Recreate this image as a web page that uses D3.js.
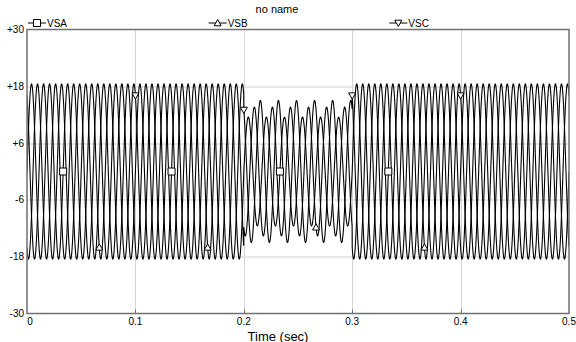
<!DOCTYPE html>
<html>
<head>
<meta charset="utf-8">
<script src="https://cdn.jsdelivr.net/npm/d3@7"></script>
<style>
    body { margin: 0; background: #fff; }
    text { font-family: "Liberation Sans", Arial, sans-serif; fill: #000; }
</style>
</head>
<body>
<script>
// waveform parameters (kV peak, 60 Hz, sag 0.2 - 0.3 s)
const freqHz = 60;
const segStart = [0, 0.2, 0.3];
const segEnd = [0.2, 0.3, 0.5];
const ampVSA = [18.5, 11.5, 18.5];
const ampVSB = [18.5, 13.6, 18.5];
const ampVSC = [18.5, 15.0, 18.5];
const phaseDeg = { VSA: 0, VSB: -120, VSC: 120 };

const seriesNames = ["VSA", "VSB", "VSC"];
const markerStart = { VSA: 1 / 30, VSB: 2 / 30, VSC: 3 / 30 };
const markerTimes = [0, 0.1, 0.2, 0.3];
const markerShape = { VSA: "square", VSB: "up", VSC: "down" };

const yTicks = [30, 18, 6, -6, -18, -30];
const yTickLabels = ["+30", "+18", "+6", "-6", "-18", "-30"];
const xTicks = [0, 0.1, 0.2, 0.3, 0.4, 0.5];
const xTickLabels = ["0", "0.1", "0.2", "0.3", "0.4", "0.5"];

const width = 576;
const height = 342;
const margin = { left: 27, right: 7, top: 29.5, bottom: 28.5 };
const chartwidth = width - margin.left - margin.right;
const chartheight = height - margin.top - margin.bottom;

const amps = { VSA: ampVSA, VSB: ampVSB, VSC: ampVSC };

const valueAt = (name, t) => {
    let i = segStart.findIndex((s, k) => t >= s && t < segEnd[k]);
    if (i < 0) i = segStart.length - 1;
    return amps[name][i] * Math.sin(2 * Math.PI * freqHz * t + phaseDeg[name] * Math.PI / 180);
};

const dt = 0.0001;
const times = d3.range(0, 0.5 + dt / 2, dt);

const x = d3.scaleLinear().domain([0, 0.5]).range([0, chartwidth]);
const y = d3.scaleLinear().domain([-30, 30]).range([chartheight, 0]);

const svg = d3.select("body").append("svg")
    .attr("width", width)
    .attr("height", height);

svg.append("text")
    .attr("x", 277).attr("y", 13)
    .attr("text-anchor", "middle")
    .attr("font-size", 11)
    .text("no name");

const g = svg.append("g")
    .attr("transform", `translate(${[margin.left, margin.top]})`);

g.append("clipPath").attr("id", "clip")
    .append("rect").attr("width", chartwidth).attr("height", chartheight);

// grid
g.selectAll(".gx")
    .data(xTicks.slice(1, -1))
    .join("line")
    .attr("class", "gx")
    .attr("x1", d => Math.round(x(d)) + 0.5).attr("x2", d => Math.round(x(d)) + 0.5)
    .attr("y1", 0).attr("y2", chartheight)
    .attr("stroke", "#d4d4d4");

g.selectAll(".gy")
    .data(yTicks.slice(1, -1))
    .join("line")
    .attr("class", "gy")
    .attr("x1", 0).attr("x2", chartwidth)
    .attr("y1", d => Math.round(y(d)) + 0.5).attr("y2", d => Math.round(y(d)) + 0.5)
    .attr("stroke", "#d4d4d4");

// waveforms
const line = d3.line().x(d => x(d[0])).y(d => y(d[1]));
const plot = g.append("g").attr("clip-path", "url(#clip)");

seriesNames.forEach(name => {
    plot.append("path")
        .datum(times.map(t => [t, valueAt(name, t)]))
        .attr("fill", "none")
        .attr("stroke", "#000")
        .attr("stroke-width", 1.1)
        .attr("d", line);
});

const symbolPath = (shape, s) => {
    if (shape === "square") return `M${-s},${-s}H${s}V${s}H${-s}Z`;
    if (shape === "up") return `M0,${-s}L${s},${s * 0.8}H${-s}Z`;
    return `M0,${s}L${s},${-s * 0.8}H${-s}Z`;
};

seriesNames.forEach(name => {
    plot.selectAll(".m-" + name)
        .data(markerTimes.map(t => t + markerStart[name]))
        .join("path")
        .attr("class", "m-" + name)
        .attr("transform", t => `translate(${x(t)},${y(valueAt(name, t))})`)
        .attr("d", symbolPath(markerShape[name], 3.5))
        .attr("fill", "#fff")
        .attr("stroke", "#000");
});

// frame
g.append("rect")
    .attr("width", chartwidth).attr("height", chartheight)
    .attr("fill", "none")
    .attr("stroke", "#707070")
    .attr("stroke-width", 1.5);

// x ticks + labels
g.selectAll(".xt")
    .data(xTicks.slice(1, -1))
    .join("line")
    .attr("class", "xt")
    .attr("x1", d => Math.round(x(d)) + 0.5).attr("x2", d => Math.round(x(d)) + 0.5)
    .attr("y1", chartheight - 4).attr("y2", chartheight)
    .attr("stroke", "#707070");

g.selectAll(".xl")
    .data(xTicks)
    .join("text")
    .attr("class", "xl")
    .attr("x", (d, i) => i === 0 ? x(d) + 3 : x(d))
    .attr("y", chartheight + 11)
    .attr("text-anchor", "middle")
    .attr("font-size", 10)
    .text((d, i) => xTickLabels[i]);

g.selectAll(".yl")
    .data(yTicks)
    .join("text")
    .attr("class", "yl")
    .attr("x", -3)
    .attr("y", d => y(d) + 3.5)
    .attr("text-anchor", "end")
    .attr("font-size", 10)
    .text((d, i) => yTickLabels[i]);

g.append("text")
    .attr("x", 251).attr("y", chartheight + 27)
    .attr("text-anchor", "middle")
    .attr("font-size", 13)
    .text("Time (sec)");

// legend
const legend = svg.append("g");
seriesNames.forEach((name, i) => {
    const lx = margin.left + 1 + i * (chartwidth / 3);
    const ly = 23;
    const lg = legend.append("g").attr("transform", `translate(${lx},${ly})`);
    lg.append("line").attr("x1", 0).attr("x2", 18).attr("y1", 0).attr("y2", 0).attr("stroke", "#000");
    lg.append("path")
        .attr("transform", "translate(9,0)")
        .attr("d", symbolPath(markerShape[name], 3.5))
        .attr("fill", "#fff")
        .attr("stroke", "#000");
    lg.append("text")
        .attr("x", 19).attr("y", 3.5)
        .attr("font-size", 10)
        .text(name);
});
</script>
</body>
</html>
